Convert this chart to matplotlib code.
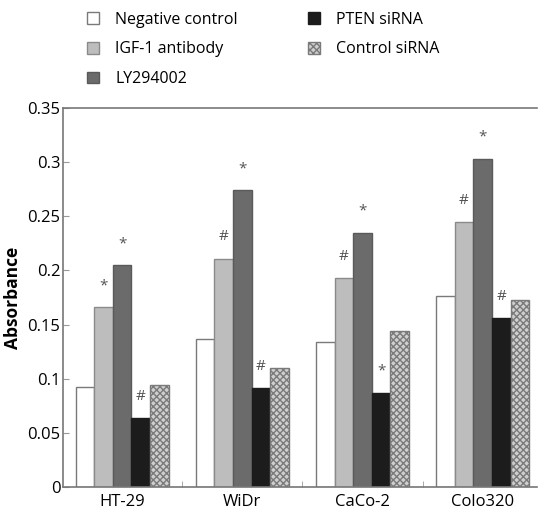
import numpy as np
import matplotlib
matplotlib.use("Agg")
import matplotlib.pyplot as plt

plt.rcParams['font.family'] = ['Open Sans', 'DejaVu Sans']

# data
cell_lines = ["HT-29", "WiDr", "CaCo-2", "Colo320"]
series_names = ["Negative control", "IGF-1 antibody", "LY294002", "PTEN siRNA", "Control siRNA"]
negative_control = [0.092, 0.137, 0.134, 0.176]
igf1_antibody = [0.166, 0.211, 0.193, 0.245]
ly294002 = [0.205, 0.274, 0.235, 0.303]
pten_sirna = [0.064, 0.091, 0.087, 0.156]
control_sirna = [0.094, 0.110, 0.144, 0.173]
# significance marks above bars
igf1_marks = ["*", "#", "#", "#"]
ly_marks = ["*", "*", "*", "*"]
pten_marks = ["#", "#", "*", "#"]

fig = plt.figure(figsize=(5.4, 5.17), dpi=100)
ax = fig.add_axes([0.117, 0.058, 0.877, 0.733])

x = np.arange(len(cell_lines))
width = 0.155
series = [negative_control, igf1_antibody, ly294002, pten_sirna, control_sirna]
styles = [
    dict(color="white", edgecolor="#7a7a7a"),
    dict(color="#bdbdbd", edgecolor="#8a8a8a"),
    dict(color="#6b6b6b", edgecolor="#5a5a5a"),
    dict(color="#1c1c1c", edgecolor="#1c1c1c"),
    dict(color="#cfcfcf", edgecolor="#7a7a7a", hatch="xxxxx"),
]
marks = [None, igf1_marks, ly_marks, pten_marks, None]

handles = []
for i, (vals, name, st) in enumerate(zip(series, series_names, styles)):
    offset = (i - 2) * width
    b = ax.bar(x + offset, vals, width=width, linewidth=1.0, label=name, **st)
    handles.append(b)
    if marks[i]:
        for xi, v, m in zip(x, vals, marks[i]):
            ax.text(xi + offset, v + 0.013, m, ha="center", va="bottom",
                    fontsize=11, color="#555555")

ax.set_ylim(0, 0.35)
ax.set_xlim(-0.49, 3.45)
ax.set_yticks([0, 0.05, 0.1, 0.15, 0.2, 0.25, 0.3, 0.35])
ax.set_yticklabels(["0", "0.05", "0.1", "0.15", "0.2", "0.25", "0.3", "0.35"])
ax.set_xticks(x)
ax.set_xticklabels(cell_lines)
ax.set_xticks([0.5, 1.5, 2.5], minor=True)
ax.tick_params(axis="x", which="major", length=0, labelsize=12, pad=5)
ax.tick_params(axis="x", which="minor", direction="in", length=4, color="#999999")
ax.tick_params(axis="y", direction="in", length=4, labelsize=12, pad=2, color="#999999")
ax.set_ylabel("Absorbance", fontsize=12.5, fontweight="bold", labelpad=4)

for s in ["left", "bottom", "top"]:
    ax.spines[s].set_color("#777777")
    ax.spines[s].set_linewidth(1.2)
ax.spines["right"].set_visible(False)

fig.legend(handles=handles, labels=series_names, ncol=2, loc="upper left",
           bbox_to_anchor=(0.135, 1.005), frameon=False, fontsize=11.5,
           handlelength=0.75, handleheight=0.75, handletextpad=1.0,
           columnspacing=4.4, labelspacing=0.85)

fig.savefig("out.png", dpi=100)
